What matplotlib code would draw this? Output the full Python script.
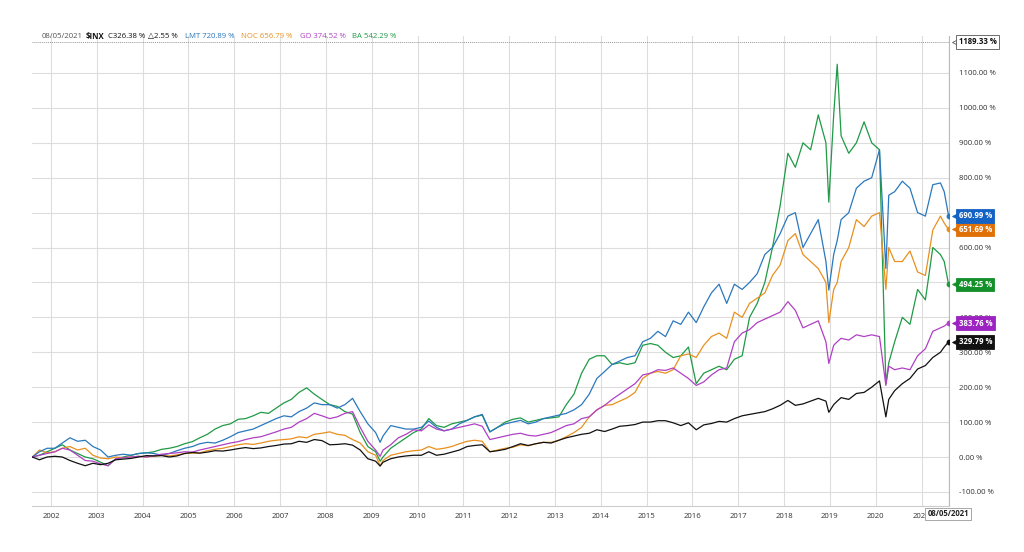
import matplotlib
matplotlib.use("Agg")
import matplotlib.pyplot as plt
import matplotlib.dates as mdates
import matplotlib.transforms as mtransforms
import pandas as pd
import numpy as np

# ---------------- data (percent change since start) ----------------
dates = (
    ["2001-08-05", "2001-10-01", "2001-12-01"]
    + [f"{y}-{m:02d}-01" for y in range(2002, 2009) for m in (2, 4, 6, 8, 10, 12)]
    + ["2009-02-01", "2009-03-09", "2009-04-01", "2009-06-01", "2009-08-01", "2009-10-01", "2009-12-01"]
    + [f"{y}-{m:02d}-01" for y in range(2010, 2018) for m in (2, 4, 6, 8, 10, 12)]
    + ["2018-02-01", "2018-04-01", "2018-06-01", "2018-08-01", "2018-10-01", "2018-12-01", "2018-12-24"]
    + ["2019-02-01", "2019-03-01", "2019-04-01", "2019-06-01", "2019-08-01", "2019-10-01", "2019-12-01"]
    + ["2020-02-01", "2020-03-23", "2020-04-15", "2020-06-01", "2020-08-01", "2020-10-01", "2020-12-01"]
    + ["2021-02-01", "2021-04-01", "2021-06-01", "2021-07-01", "2021-08-05"]
)

inx = [0, -8, 0,
       2, 0, -10, -18, -25, -18,
       -22, -18, -8, -6, -4, 0,
       4, 3, 4, 0, 3, 10,
       13, 11, 14, 18, 17, 20,
       24, 27, 24, 26, 30, 33,
       37, 38, 45, 42, 50, 47,
       35, 36, 38, 34, 20, -5,
       -12, -26, -15, -5, 0, 3, 5,
       5, 15, 5, 8, 14, 20,
       30, 33, 35, 15, 18, 22,
       30, 38, 33, 38, 42, 40,
       48, 55, 60, 65, 68, 78,
       73, 80, 88, 90, 93, 100,
       100, 104, 104, 98, 90, 98,
       78, 92, 96, 102, 100, 110,
       118, 122, 126, 130, 138, 148,
       162, 148, 152, 160, 168, 160, 128,
       150, 160, 170, 165, 182, 185, 200,
       218, 115, 165, 190, 210, 225, 252,
       262, 285, 300, 315, 329.79]

lmt = [0, 15, 25,
       25, 40, 55, 45, 48, 30,
       20, 0, 5, 8, 5, 10,
       12, 10, 5, 10, 18, 25,
       30, 38, 42, 40, 48, 58,
       70, 75, 80, 90, 100, 110,
       118, 115, 130, 140, 155, 150,
       150, 140, 150, 168, 130, 95,
       70, 42, 60, 90, 85, 80, 80,
       85, 103, 85, 75, 80, 95,
       105, 115, 122, 72, 85, 95,
       100, 105, 95, 100, 110, 115,
       120, 125, 135, 150, 180, 225,
       245, 265, 275, 285, 290, 330,
       340, 360, 345, 390, 380, 415,
       385, 430, 470, 495, 440, 495,
       480, 500, 525, 580, 600, 640,
       690, 700, 600, 640, 680, 560, 478,
       580, 620, 680, 700, 770, 790, 800,
       880, 540, 750, 760, 790, 770, 700,
       690, 780, 785, 760, 690.99]

noc = [0, 20, 12,
       15, 25, 30, 20, 25, 5,
       -3, -5, 0, -2, 0, 2,
       0, 2, 5, 3, 6, 10,
       11, 12, 18, 22, 25, 30,
       35, 38, 36, 40, 45, 48,
       50, 52, 58, 55, 65, 68,
       72, 65, 62, 50, 40, 15,
       5, -25, -10, 5, 10, 15, 18,
       20, 30, 22, 25, 30, 38,
       45, 48, 45, 15, 20, 25,
       28, 35, 32, 38, 42, 42,
       48, 58, 70, 85, 115, 135,
       148, 150, 160, 170, 185, 225,
       240, 245, 240, 250, 290, 295,
       285, 320, 345, 355, 340, 415,
       400, 440, 455, 470, 520, 550,
       620, 640, 580, 560, 540, 500, 385,
       480, 500, 560, 600, 680, 660, 690,
       700, 480, 600, 560, 560, 590, 530,
       520, 650, 690, 670, 651.69]

gd = [0, 5, 10,
      15, 25, 20, 5, -10, -12,
      -20, -25, -5, -2, 0, 2,
      0, 4, 8, 10, 12, 15,
      14, 20, 25, 30, 35, 40,
      44, 50, 55, 58, 65, 72,
      80, 85, 100, 110, 125, 118,
      110, 115, 125, 130, 85, 45,
      20, 2, 20, 35, 55, 65, 78,
      75, 92, 80, 75, 80, 85,
      90, 95, 88, 50, 55, 60,
      65, 68, 62, 60, 65, 70,
      80, 90, 95, 110, 115, 135,
      148, 165, 180, 195, 210, 235,
      240, 250, 248, 255, 240, 225,
      205, 215, 235, 250, 255, 330,
      355, 365, 385, 395, 405, 415,
      445, 420, 370, 380, 390, 330, 268,
      320, 330, 340, 335, 350, 345, 350,
      345, 205, 260, 250, 255, 250, 290,
      310, 360, 370, 375, 383.76]

ba = [0, 5, 15,
      25, 35, 20, 10, 0, -5,
      -15, -25, -5, 0, 5, 10,
      12, 15, 22, 25, 30, 38,
      44, 55, 65, 80, 90, 95,
      108, 110, 118, 128, 125, 140,
      155, 165, 185, 198, 180, 165,
      150, 145, 130, 123, 70, 30,
      15, -12, 0, 25, 40, 55, 70,
      80, 110, 90, 85, 95, 100,
      105, 115, 120, 72, 85, 100,
      108, 112, 100, 105, 110, 112,
      115, 150, 180, 240, 280, 290,
      290, 265, 270, 265, 270, 320,
      325, 320, 300, 285, 290, 315,
      210, 240, 250, 260, 250, 280,
      290, 400, 440, 500, 600, 720,
      870, 830, 900, 880, 980, 900, 730,
      980, 1125, 920, 870, 900, 960, 900,
      880, 210, 270, 330, 400, 380, 480,
      450, 600, 580, 560, 494.25]

series_names = ["BA", "NOC", "LMT", "GD", "$INX"]
series_vals = [ba, noc, lmt, gd, inx]
line_colors = ["#1f9a45", "#e8901e", "#2a78bd", "#b040c4", "#111111"]
box_colors = ["#13902a", "#e07008", "#1462c4", "#9c22c2", "#111111"]
year_ticks = list(range(2002, 2022))
y_ticks = list(range(-100, 1200, 100))
hidden_y_labels = [500, 700]          # covered by the value boxes in the original
max_value = 1189.33
end_label = "08/05/2021"

header_parts = [
    ("08/05/2021", "#555555", "normal"),
    ("$INX", "#111111", "bold"),
    ("C326.38 %", "#111111", "normal"),
    ("\u25b32.55 %", "#111111", "normal"),
    ("LMT 720.89 %", "#2a78bd", "normal"),
    ("NOC 656.79 %", "#e8901e", "normal"),
    ("GD 374.52 %", "#b040c4", "normal"),
    ("BA 542.29 %", "#1f9a45", "normal"),
]

# ---------------- figure ----------------
plt.rcParams["font.family"] = ["Open Sans", "DejaVu Sans"]
W, H = 1024, 552
fig = plt.figure(figsize=(W / 100, H / 100), dpi=100)
fig.patch.set_facecolor("white")

left_px, right_px, top_px, bottom_px = 32, 949, 36, 506
ax = fig.add_axes([left_px / W, 1 - bottom_px / H,
                   (right_px - left_px) / W, (bottom_px - top_px) / H])

x = pd.to_datetime(dates)
for name, vals, c in zip(series_names, series_vals, line_colors):
    ax.plot(x, vals, color=c, lw=0.9, zorder=3)
    ax.plot(x[-1:], vals[-1:], "o", color=c, ms=3.2, zorder=4)

# x range from pixel mapping: 2002-01-01 at px 51, 2021-01-01 at px 921.5
d02 = mdates.date2num(pd.Timestamp("2002-01-01"))
d21 = mdates.date2num(pd.Timestamp("2021-01-01"))
ppd = (921.5 - 51) / (d21 - d02)
ax.set_xlim(d02 - (51 - left_px) / ppd, d02 + (right_px - 51) / ppd)

# y range: 0 at px 457, 0.3491 px per %
ax.set_ylim((457 - bottom_px) / 0.3491, (457 - top_px) / 0.3491)

ax.set_xticks([mdates.date2num(pd.Timestamp(f"{y}-01-01")) for y in year_ticks])
ax.set_xticklabels([str(y) for y in year_ticks], fontsize=5.6, color="#333333")
ax.set_yticks(y_ticks)
ax.set_yticklabels(["" if v in hidden_y_labels else f"{v:.2f} %" for v in y_ticks],
                   fontsize=5.6, color="#333333")
ax.yaxis.tick_right()
ax.tick_params(axis="y", length=0, pad=7)
ax.tick_params(axis="x", length=0, pad=5)
ax.grid(True, color="#dddddd", lw=0.8, zorder=0)
for s in ["left", "top"]:
    ax.spines[s].set_visible(False)
ax.spines["right"].set_color("#bbbbbb")
ax.spines["right"].set_linewidth(0.8)
ax.spines["bottom"].set_color("#cccccc")
ax.spines["bottom"].set_linewidth(0.8)

# max line
ax.axhline(max_value, color="#999999", lw=0.7, ls=(0, (1, 1)), zorder=2)
# end-date line
ax.axvline(mdates.date2num(x[-1]), color="#aaaaaa", lw=0.8, zorder=2)

trans = mtransforms.blended_transform_factory(ax.transAxes, ax.transData)


def value_box(v, fc, ec, tc):
    ax.text(1.0105, v, f"{v:.2f} %", transform=trans, ha="left", va="center",
            fontsize=5.6, fontweight="bold", color=tc, zorder=7, clip_on=False,
            bbox=dict(boxstyle="square,pad=0.3", fc=fc, ec=ec, lw=0.6))
    ax.plot([1.0065], [v], marker="<", ms=5.0, color=fc, mec=ec, mew=0.6,
            transform=trans, clip_on=False, zorder=6)


value_box(max_value, "white", "#555555", "#111111")
for name, vals, c in zip(series_names, series_vals, box_colors):
    value_box(vals[-1], c, c, "white")

# end date box at bottom
fig.text(948 / W, 1 - 514 / H, end_label, ha="center", va="center", fontsize=5.6,
         fontweight="bold", color="#222222",
         bbox=dict(boxstyle="square,pad=0.25", fc="white", ec="#999999", lw=0.6))

# header
xpos = 42
r = fig.canvas.get_renderer()
for txt, col, fw in header_parts:
    t = fig.text(xpos / W, 1 - 36.5 / H, txt, ha="left", va="center", fontsize=5.6,
                 color=col, fontweight=fw)
    bb = t.get_window_extent(renderer=r)
    xpos += bb.width + (3 if txt.startswith(("08/", "$", "C3")) else 7)

fig.savefig("out.png", dpi=100, facecolor="white")
